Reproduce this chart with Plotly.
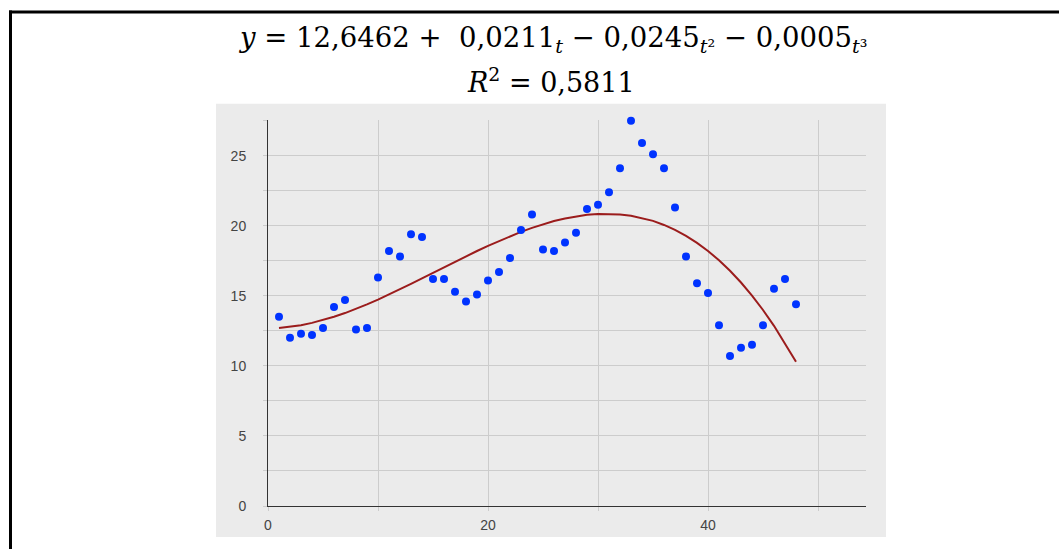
import plotly.graph_objects as go

# ---- data ----
t_obs = list(range(1, 49))
y_obs = [13.5, 12.0, 12.3, 12.2, 12.7, 14.2, 14.7, 12.6, 12.7, 16.3,
         18.2, 17.8, 19.4, 19.2, 16.2, 16.2, 15.3, 14.6, 15.1, 16.1,
         16.7, 17.7, 19.7, 20.8, 18.3, 18.2, 18.8, 19.5, 21.2, 21.5,
         22.4, 24.1, 27.5, 25.9, 25.1, 24.1, 21.3, 17.8, 15.9, 15.2,
         12.9, 10.7, 11.3, 11.5, 12.9, 15.5, 16.2, 14.4]

t_fit = list(range(1, 49))
y_fit = [12.70, 12.78, 12.90, 13.07, 13.27, 13.51, 13.77, 14.07, 14.39, 14.73,
         15.09, 15.46, 15.85, 16.24, 16.64, 17.04, 17.43, 17.82, 18.20, 18.57,
         18.92, 19.26, 19.57, 19.85, 20.11, 20.34, 20.52, 20.67, 20.78, 20.84,
         20.85, 20.81, 20.72, 20.56, 20.35, 20.06, 19.71, 19.28, 18.78, 18.20,
         17.54, 16.79, 15.95, 15.02, 13.99, 12.86, 11.62, 10.30]

x_ticks = [0, 20, 40]
x_tick_labels = ["0", "20", "40"]
y_ticks = [0, 5, 10, 15, 20, 25]
y_tick_labels = ["0", "5", "10", "15", "20", "25"]

title_line1 = ("<i>y</i> = 12,6462 +  0,0211<sub><i>t</i></sub> − 0,0245<sub><i>t</i>²</sub>"
               " − 0,0005<sub><i>t</i>³</sub>")
title_line2 = "<i>R</i><sup>2</sup> = 0,5811"

# ---- layout geometry (pixels) ----
W, H = 1059, 549
X_SCALE, Y_SCALE = 11.0, 14.0          # pixels per data unit
Y_TOP = 27.55
L, R, B = 268, 866, 506
T = B - Y_TOP * Y_SCALE
pw, ph = R - L, B - T


def px(x):
    return (x - L) / pw


def py(y):
    return (B - y) / ph


GRID = "#cccccc"
BG = "#ebebeb"
SERIF = "DejaVu Serif, Liberation Serif, serif"

fig = go.Figure()
fig.add_trace(go.Scatter(
    x=t_fit, y=y_fit, mode="lines",
    line=dict(color="#9b1c1c", width=2),
    showlegend=False, hoverinfo="x+y"))
fig.add_trace(go.Scatter(
    x=t_obs, y=y_obs, mode="markers", cliponaxis=False,
    marker=dict(color="#0033ff", size=8, line=dict(width=0)),
    showlegend=False, hoverinfo="x+y"))

shapes = [
    dict(type="rect", xref="paper", yref="paper", layer="below",
         x0=px(216), x1=px(886), y0=py(537), y1=py(104),
         fillcolor=BG, line=dict(width=0)),
    dict(type="line", xref="paper", yref="paper",
         x0=px(9), x1=px(1065), y0=py(12.5), y1=py(12.5),
         line=dict(color="black", width=3)),
    dict(type="line", xref="paper", yref="paper",
         x0=px(10.5), x1=px(10.5), y0=py(11), y1=py(560),
         line=dict(color="black", width=3)),
]

annotations = [
    dict(text=title_line1, xref="paper", yref="paper", x=px(552), y=py(40),
         xanchor="center", yanchor="middle", showarrow=False,
         font=dict(family=SERIF, size=27.5, color="black")),
    dict(text=title_line2, xref="paper", yref="paper", x=px(551), y=py(81),
         xanchor="center", yanchor="middle", showarrow=False,
         font=dict(family=SERIF, size=27, color="black")),
]

fig.update_layout(
    width=W, height=H,
    margin=dict(l=L, r=W - R, t=T, b=H - B, pad=0),
    paper_bgcolor="white", plot_bgcolor=BG,
    shapes=shapes, annotations=annotations,
    font=dict(family="Liberation Sans, Arial, sans-serif", size=14, color="#444444"),
    xaxis=dict(range=[0, pw / X_SCALE], tickmode="array", tickvals=x_ticks,
               ticktext=x_tick_labels, showgrid=True, gridcolor=GRID, gridwidth=1,
               zeroline=False, showline=True, linecolor="#333333", linewidth=1,
               ticks="outside", ticklen=4, tickcolor=GRID, ticklabelstandoff=2,
               minor=dict(dtick=10, tick0=0, showgrid=True, gridcolor=GRID,
                          ticks="outside", ticklen=4, tickcolor=GRID),
               fixedrange=True),
    yaxis=dict(range=[0, Y_TOP], tickmode="array", tickvals=y_ticks,
               ticktext=y_tick_labels, showgrid=True, gridcolor=GRID, gridwidth=1,
               zeroline=False, showline=True, linecolor="#333333", linewidth=1,
               ticks="outside", ticklen=4, tickcolor=GRID, ticklabelstandoff=14,
               minor=dict(dtick=2.5, tick0=0, showgrid=True, gridcolor=GRID,
                          ticks="outside", ticklen=4, tickcolor=GRID),
               fixedrange=True),
)

fig.write_html("out.html")
